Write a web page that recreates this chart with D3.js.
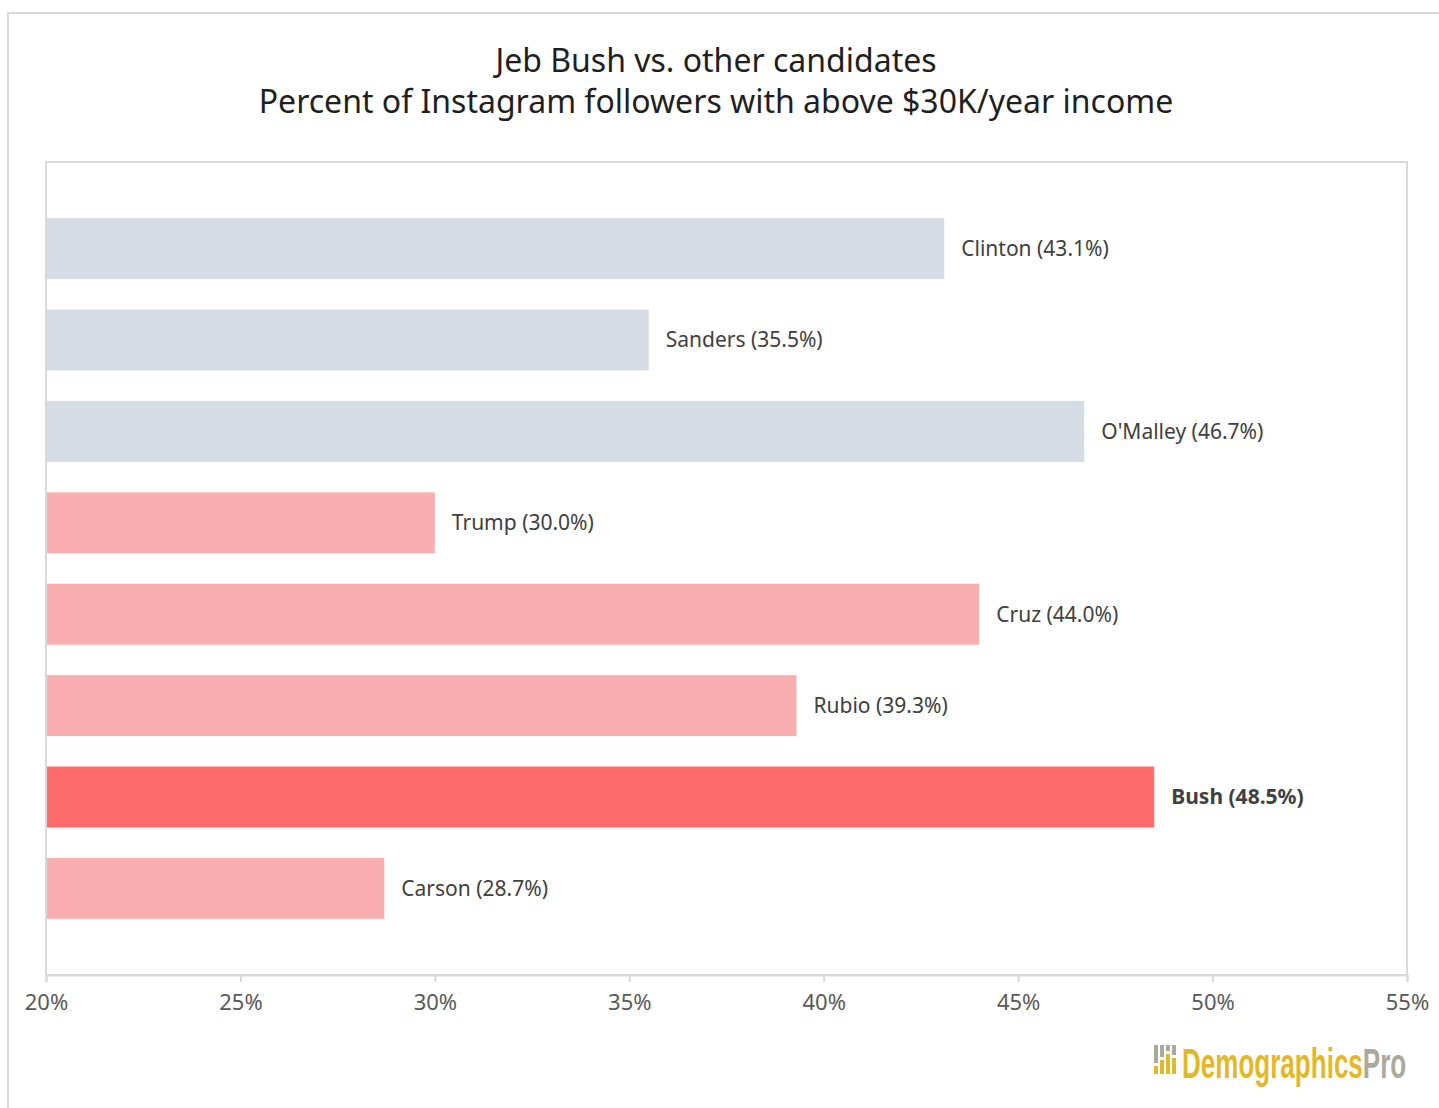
<!DOCTYPE html>
<html>
<head>
<meta charset="utf-8">
<script src="https://cdn.jsdelivr.net/npm/d3@7"></script>
<style>
  body { margin: 0; background: #fff; }
  svg { display: block; font-family: "Noto Sans", sans-serif; }
</style>
</head>
<body>
<svg id="chart" width="1439" height="1108"></svg>
<script>
// data
var candidates = ["Clinton", "Sanders", "O'Malley", "Trump", "Cruz", "Rubio", "Bush", "Carson"];
var values = [43.1, 35.5, 46.7, 30.0, 44.0, 39.3, 48.5, 28.7];
var parties = ["D", "D", "D", "R", "R", "R", "R", "R"];
var highlight = "Bush";
var xTicks = [20, 25, 30, 35, 40, 45, 50, 55];
var titleLines = ["Jeb Bush vs. other candidates", "Percent of Instagram followers with above $30K/year income"];

var svg = d3.select("#chart");

var plotLeft = 46, plotRight = 1407, plotTop = 162, plotBottom = 975;

// outer frame
svg.append("rect")
    .attr("x", 8).attr("y", 13)
    .attr("width", 1460).attr("height", 1120)
    .attr("fill", "none")
    .attr("stroke", "#d9d9d9")
    .attr("stroke-width", 2);

// titles
svg.selectAll("text.title").data(titleLines).enter().append("text")
    .attr("class", "title")
    .attr("x", 716)
    .attr("y", function (d, i) { return 72 + i * 41; })
    .attr("text-anchor", "middle")
    .attr("font-size", 32)
    .attr("fill", "#1f1f1f")
    .text(function (d) { return d; });

var x = d3.scaleLinear().domain([20, 55]).range([plotLeft, plotRight]);
var y = d3.scaleBand().domain(candidates).range([plotTop, plotBottom])
    .paddingInner(0.333).paddingOuter(0.614);

// plot box
svg.append("rect")
    .attr("x", plotLeft).attr("y", plotTop)
    .attr("width", plotRight - plotLeft).attr("height", plotBottom - plotTop)
    .attr("fill", "none")
    .attr("stroke", "#d9d9d9")
    .attr("stroke-width", 2);

// x axis
var axis = svg.append("g")
    .attr("transform", "translate(0," + plotBottom + ")")
    .call(d3.axisBottom(x).tickValues(xTicks).tickSize(7).tickPadding(12)
        .tickFormat(function (d) { return d + "%"; }));
axis.select(".domain").attr("stroke", "#d9d9d9").attr("stroke-width", 2);
axis.selectAll(".tick line").attr("stroke", "#d9d9d9").attr("stroke-width", 2);
axis.selectAll(".tick text")
    .attr("font-size", 22)
    .attr("font-family", "Noto Sans, sans-serif")
    .attr("fill", "#595959");

function barColor(name, i) {
    if (name === highlight) return "#ff6b6b";
    return parties[i] === "D" ? "#d6dce5" : "#f9afaf";
}

var rows = candidates.map(function (c, i) { return { name: c, value: values[i], i: i }; });

svg.selectAll("rect.bar").data(rows).enter().append("rect")
    .attr("class", "bar")
    .attr("x", x(20) + 1)
    .attr("y", function (d) { return y(d.name); })
    .attr("width", function (d) { return x(d.value) - x(20) - 1; })
    .attr("height", y.bandwidth())
    .attr("fill", function (d) { return barColor(d.name, d.i); });

svg.selectAll("text.label").data(rows).enter().append("text")
    .attr("class", "label")
    .attr("x", function (d) { return x(d.value) + 17; })
    .attr("y", function (d) { return y(d.name) + y.bandwidth() / 2; })
    .attr("dy", "0.35em")
    .attr("font-size", 21)
    .attr("font-weight", function (d) { return d.name === highlight ? "bold" : "normal"; })
    .attr("fill", "#404040")
    .text(function (d) { return d.name + " (" + d.value.toFixed(1) + "%)"; });

// logo
var logo = svg.append("g").attr("transform", "translate(1154,1045)");
var iconCols = [[18, 8], [12, 14], [6, 20], [10, 16]];
iconCols.forEach(function (c, i) {
    logo.append("rect").attr("x", i * 6).attr("y", 0).attr("width", 4).attr("height", c[0]).attr("fill", "#a9a99c");
    logo.append("rect").attr("x", i * 6).attr("y", c[0] + 3).attr("width", 4).attr("height", c[1]).attr("fill", "#e3b828");
});
var logoText = logo.append("text")
    .attr("x", 0).attr("y", 33)
    .attr("transform", "translate(28,0) scale(0.62,1)")
    .attr("font-family", "Liberation Sans Narrow, Liberation Sans, sans-serif")
    .attr("font-weight", "bold")
    .attr("font-size", 42);
logoText.append("tspan").attr("fill", "#e3b828").text("Demographics");
logoText.append("tspan").attr("fill", "#a9a99c").text("Pro");
</script>
</body>
</html>
